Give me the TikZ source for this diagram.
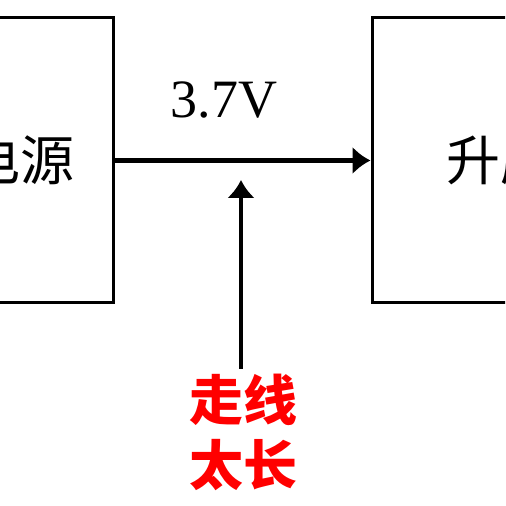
\documentclass[tikz,border=0pt]{standalone}
\usepackage{fontspec}
\setmainfont{Liberation Serif}
\newfontfamily\cjk{Noto Sans CJK SC}
\usetikzlibrary{positioning}
\usetikzlibrary{arrows.meta}

\tikzset{
	block/.style = {draw, line width = 1.5pt, minimum height = 142.5pt, font = \cjk\fontsize{27}{32}\selectfont},
	wire/.style = {line width = 2.3pt, -{Latex[length = 9pt, width = 14pt]}},
}

\begin{document}
\begin{tikzpicture}[x = .5pt, y = .5pt]
	\useasboundingbox (0,0) rectangle (505,506);
	\clip (0,0) rectangle (505,506);
	
	\node[block, minimum width = 92pt] (power) at (21,345.5) {电源};
	\node[block, minimum width = 128pt] (boost) at (500,345.5) {升压};
	\node[font = \fontsize{27}{32}\selectfont] (volt) at (224,406) {3.7V};
	\node[red, align = center, font = \cjk\bfseries\fontsize{27}{32.5}\selectfont] (note) at (243,74) {走线\\太长};
	\coordinate (hit) at (241,326);
	
	\draw[wire] (power.east) -- (boost.west);
	\draw[wire] (note.north -| hit) ++(0,-2) -- (hit);
\end{tikzpicture}
\end{document}
